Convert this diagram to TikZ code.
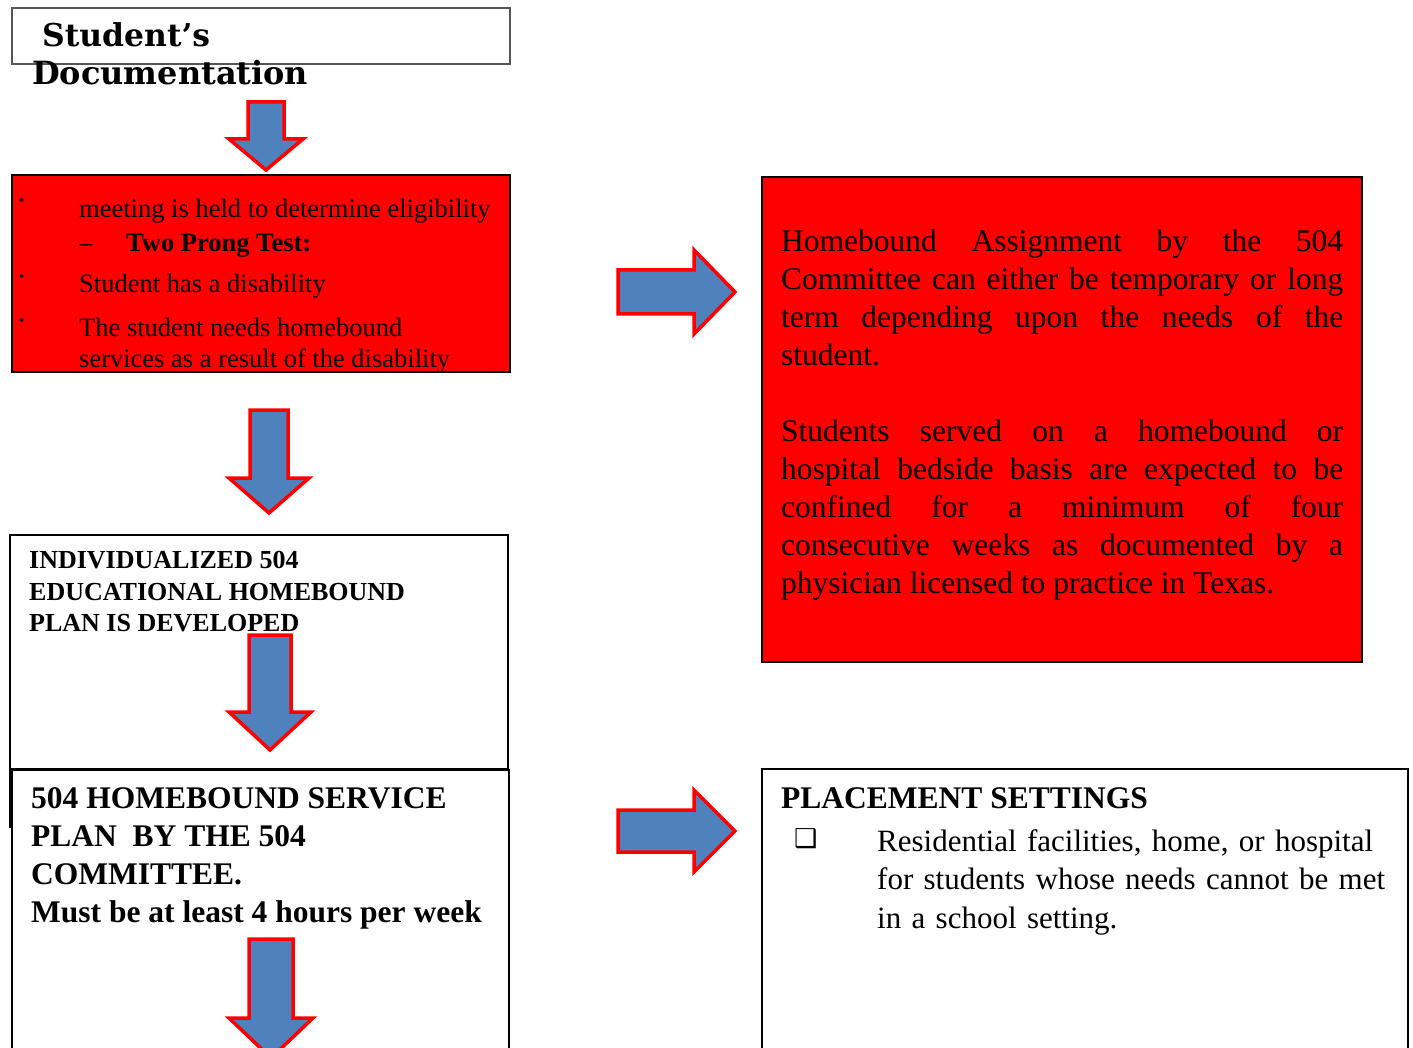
\documentclass[tikz,border=0pt]{standalone}
\usepackage{fontspec}
\setmainfont{Liberation Serif}
\newfontfamily\symbolfont{DejaVu Sans}
\newfontfamily\headfont{DejaVu Serif}
\usepackage{graphicx}
\usepackage{xcolor}
\usetikzlibrary{positioning,calc}

\definecolor{arrowblue}{HTML}{4F81BD}
\definecolor{boxgray}{HTML}{555555}

\tikzset{
    blockarrow/.style={draw=red, fill=arrowblue, line width=3.5pt, line join=miter},
    plainbox/.style={draw=black, line width=1.6pt, fill=white},
    redbox/.style={draw=black, line width=1.6pt, fill=red},
    linetext/.style={anchor=base west, inner sep=0pt},
}

% down / right block arrows
\newcommand{\dnarrow}[6]{%
    \draw[blockarrow] (#1-#5,#2) -- (#1+#5,#2) -- (#1+#5,#3) -- (#1+#6,#3) -- (#1,#4) -- (#1-#6,#3) -- (#1-#5,#3) -- cycle;}
\newcommand{\rtarrow}[6]{%
    \draw[blockarrow] (#2,#1-#5) -- (#2,#1+#5) -- (#3,#1+#5) -- (#3,#1+#6) -- (#4,#1) -- (#3,#1-#6) -- (#3,#1-#5) -- cycle;}

\begin{document}
\begin{tikzpicture}[x=1pt, y=-1pt]
    \clip (0,0) rectangle (1413,1048);
    \fill[white] (0,0) rectangle (1413,1048);

    % left column
    \draw[draw=boxgray, line width=2pt] (12,8) rectangle (510,64);
    \node[linetext, font=\headfont\bfseries\fontsize{29}{29}\selectfont] (docA) at (42,47) {\resizebox{168pt}{!}{Student’s}};
    \node[linetext, font=\headfont\bfseries\fontsize{29}{29}\selectfont] (docB) at (32,85) {\resizebox{276pt}{!}{Documentation}};
    \dnarrow{266}{102}{139}{170}{18}{37}

    \draw[redbox] (12,175) rectangle (510,372);
    \begin{scope}[every node/.style={linetext, font=\fontsize{26.5}{32}\selectfont}]
        \node (b1) at (19,206) {\fontsize{15}{15}\selectfont\textbullet};
        \node (b2) at (19,282) {\fontsize{15}{15}\selectfont\textbullet};
        \node (b3) at (19,326) {\fontsize{15}{15}\selectfont\textbullet};
        \node (meet) at (79,218) {meeting is held to determine eligibility};
        \node (dash) at (79,252) {–};
        \node (prong) at (126,252) {\bfseries Two Prong Test:};
        \node (hasdis) at (79,293) {Student has a disability};
        \node (needs) at (79,337) {The student needs homebound};
        \node (result) at (79,367) {services as a result of the disability};
    \end{scope}
    \draw[draw=black, line width=1.6pt] (12,372) -- (510,372);
    \dnarrow{269}{410}{478}{513}{19}{40}

    \draw[plainbox] (10,535) rectangle (508,769);
    \draw[line width=1.6pt] (10,769) -- (10,828);
    \begin{scope}[every node/.style={linetext, font=\bfseries\fontsize{26}{26}\selectfont}]
        \node (indiv) at (29,568) {INDIVIDUALIZED 504};
        \node (educ) at (29,600) {EDUCATIONAL HOMEBOUND};
        \node (plan) at (29,631) {PLAN IS DEVELOPED};
    \end{scope}
    \dnarrow{270}{635}{712}{750}{21}{41}

    \draw[plainbox] (12,770) rectangle (509,1070);
    \begin{scope}[every node/.style={linetext, font=\bfseries\fontsize{31.5}{38}\selectfont}]
        \node (serv) at (31,808) {504 HOMEBOUND SERVICE};
        \node (byc) at (31,846) {PLAN\ \ BY THE 504};
        \node (comm) at (31,884) {COMMITTEE.};
        \node (hours) at (31,922) {Must be at least 4 hours per week};
    \end{scope}
    \dnarrow{271}{939}{1018}{1058}{22}{42}

    % right column
    \rtarrow{292}{618}{694}{735}{22}{42}
    \draw[redbox] (762,177) rectangle (1362,662);
    \node[linetext, text width=562pt, align=justify,
          font=\fontsize{31.5}{38}\selectfont] (assign) at (781,252)
        {\tolerance=10000\relax
         Homebound Assignment by the 504\linebreak
         Committee can either be temporary or long\linebreak
         term depending upon the needs of the\linebreak
         student.\par\vspace{38pt}
         Students served on a homebound or\linebreak
         hospital bedside basis are expected to be\linebreak
         confined for a minimum of four\linebreak
         consecutive weeks as documented by a\linebreak
         physician licensed to practice in Texas.};

    \rtarrow{831}{618}{694}{735}{21}{41}
    \draw[plainbox] (762,769) rectangle (1408,1070);
    \node[linetext, font=\bfseries\fontsize{31.5}{38}\selectfont] (place) at (781,808) {PLACEMENT SETTINGS};
    \node[linetext, font=\symbolfont\fontsize{26}{26}\selectfont] (chk) at (794,847) {❑};
    \node[linetext, text width=525pt, align=left, font=\fontsize{31}{38.5}\selectfont] (resid) at (877,851)
        {Residential facilities, home, or hospital\\
         for students whose needs cannot be met\\
         in a school setting.};
\end{tikzpicture}
\end{document}
